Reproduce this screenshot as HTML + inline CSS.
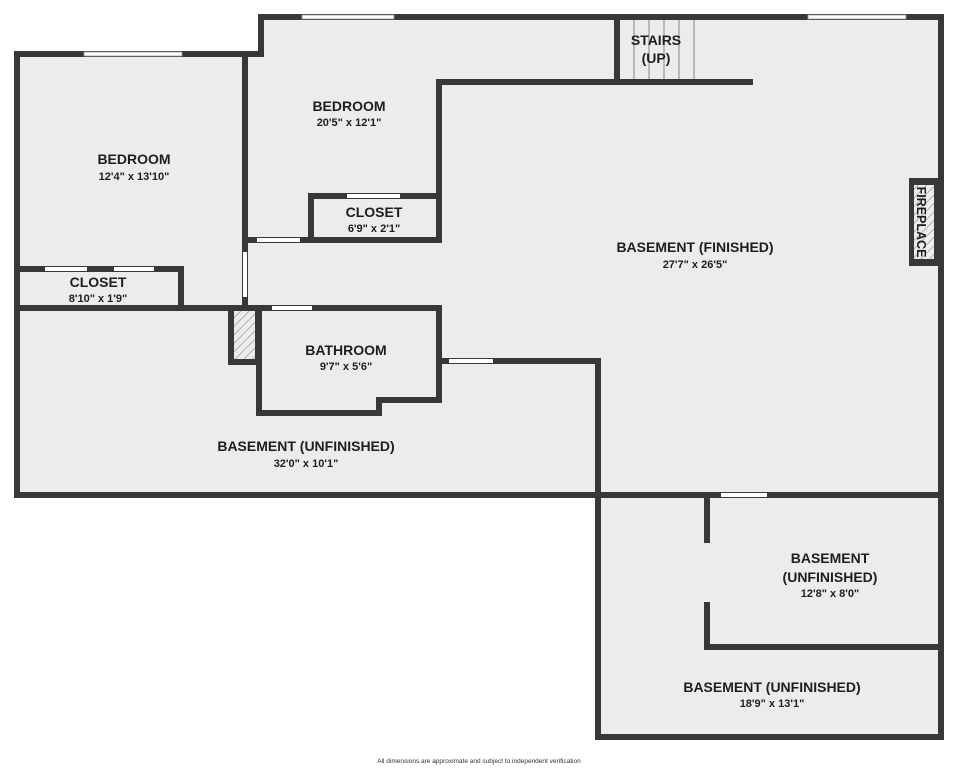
<!DOCTYPE html>
<html><head><meta charset="utf-8"><style>
html,body{margin:0;padding:0;background:#fff;}
svg{display:block;}
text{font-family:"Liberation Sans",Arial,sans-serif;fill:#1e1e1e;text-anchor:middle;}
.l{font-weight:bold;font-size:14px;}
.d{font-weight:bold;font-size:11px;}
</style></head><body>
<svg width="958" height="768" viewBox="0 0 958 768" xmlns="http://www.w3.org/2000/svg">
<defs>
<pattern id="h" width="6" height="6" patternUnits="userSpaceOnUse" patternTransform="rotate(45)">
<rect width="6" height="6" fill="#ececec"/><line x1="0" y1="0" x2="0" y2="6" stroke="#777" stroke-width="1"/>
</pattern>
</defs>
<polygon points="14,51 258,51 258,14 944,14 944,740 595,740 595,498 14,498" fill="#ececec"/>
<g fill="#383838">
<rect x="14" y="51" width="250" height="6"/>
<rect x="258" y="14" width="6" height="43"/>
<rect x="258" y="14" width="686" height="6"/>
<rect x="938" y="14" width="6" height="726"/>
<rect x="14" y="51" width="6" height="447"/>
<rect x="14" y="492" width="930" height="6"/>
<rect x="595" y="358" width="6" height="382"/>
<rect x="595" y="734" width="349" height="6"/>
<rect x="242" y="57" width="6" height="251"/>
<rect x="14" y="266" width="170" height="6"/>
<rect x="178" y="266" width="6" height="42"/>
<rect x="14" y="305" width="428" height="6"/>
<rect x="228" y="305" width="34" height="60"/>
<rect x="256" y="305" width="6" height="111"/>
<rect x="256" y="410" width="126" height="6"/>
<rect x="376" y="397" width="6" height="19"/>
<rect x="376" y="397" width="66" height="6"/>
<rect x="436" y="305" width="6" height="98"/>
<rect x="436" y="358" width="165" height="6"/>
<rect x="308" y="193" width="134" height="6"/>
<rect x="308" y="193" width="6" height="50"/>
<rect x="242" y="237" width="200" height="6"/>
<rect x="436" y="79" width="6" height="164"/>
<rect x="436" y="79" width="317" height="6"/>
<rect x="614" y="14" width="6" height="71"/>
<rect x="909" y="178" width="35" height="88"/>
<rect x="704" y="498" width="6" height="45"/>
<rect x="704" y="602" width="6" height="48"/>
<rect x="704" y="644" width="240" height="6"/>
</g>
<rect x="234" y="311" width="21" height="48" fill="url(#h)"/>
<rect x="914" y="185" width="20" height="74" fill="url(#h)"/>
<g fill="#fff">
<rect x="243" y="252" width="4" height="45"/>
<rect x="257" y="238" width="43" height="4"/>
<rect x="347" y="194" width="53" height="4"/>
<rect x="45" y="267" width="42" height="4"/>
<rect x="114" y="267" width="40" height="4"/>
<rect x="272" y="306" width="40" height="4"/>
<rect x="449" y="359" width="44" height="4"/>
<rect x="721" y="493" width="46" height="4"/>
</g>
<g fill="#fff" stroke="#999" stroke-width="0.8">
<rect x="84" y="52" width="98" height="4"/>
<rect x="302" y="15" width="92" height="4"/>
<rect x="808" y="15" width="98" height="4"/>
</g>
<g stroke="#888" stroke-width="1">
<line x1="634" y1="20" x2="634" y2="79"/>
<line x1="649" y1="20" x2="649" y2="79"/>
<line x1="664" y1="20" x2="664" y2="79"/>
<line x1="679" y1="20" x2="679" y2="79"/>
<line x1="694" y1="20" x2="694" y2="79"/>
</g>
<text class="l" x="134" y="164">BEDROOM</text>
<text class="d" x="134" y="180">12'4" x 13'10"</text>
<text class="l" x="349" y="111">BEDROOM</text>
<text class="d" x="349" y="126">20'5" x 12'1"</text>
<text class="l" x="374" y="217">CLOSET</text>
<text class="d" x="374" y="232">6'9" x 2'1"</text>
<text class="l" x="98" y="287">CLOSET</text>
<text class="d" x="98" y="302">8'10" x 1'9"</text>
<text class="l" x="346" y="355">BATHROOM</text>
<text class="d" x="346" y="370">9'7" x 5'6"</text>
<text class="l" x="656" y="45">STAIRS</text>
<text class="l" x="656" y="63">(UP)</text>
<text class="l" x="695" y="252">BASEMENT (FINISHED)</text>
<text class="d" x="695" y="268">27'7" x 26'5"</text>
<text class="l" x="306" y="451">BASEMENT (UNFINISHED)</text>
<text class="d" x="306" y="467">32'0" x 10'1"</text>
<text class="l" x="830" y="563">BASEMENT</text>
<text class="l" x="830" y="582">(UNFINISHED)</text>
<text class="d" x="830" y="597">12'8" x 8'0"</text>
<text class="l" x="772" y="692">BASEMENT (UNFINISHED)</text>
<text class="d" x="772" y="707">18'9" x 13'1"</text>
<text class="l" transform="translate(922,222) rotate(90)" x="0" y="5" style="font-size:12.5px">FIREPLACE</text>
<text x="479" y="763" style="font-size:6.5px;fill:#333">All dimensions are approximate and subject to independent verification</text>
</svg>
</body></html>
